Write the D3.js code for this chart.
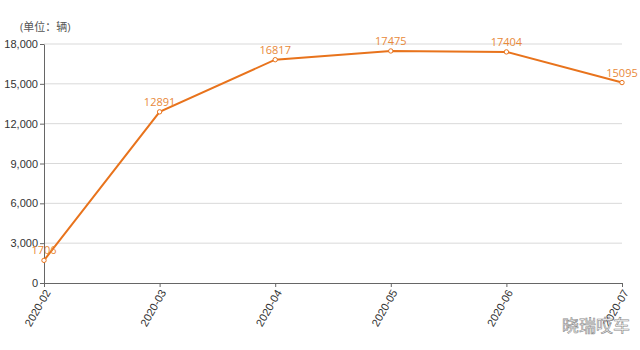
<!DOCTYPE html>
<html>
<head>
<meta charset="utf-8">
<script src="https://cdn.jsdelivr.net/npm/d3@7"></script>
<style>
  body { margin: 0; background: #fff; }
  svg { display: block; font-family: "Open Sans", "Noto Sans CJK SC", sans-serif; }
</style>
</head>
<body>
<svg id="chart" width="640" height="350"></svg>
<script>
const months = ['2020-02', '2020-03', '2020-04', '2020-05', '2020-06', '2020-07'];
const sales = [1706, 12891, 16817, 17475, 17404, 15095];
const yTicks = [0, 3000, 6000, 9000, 12000, 15000, 18000];

const width = 640, height = 350;
const margin = { top: 44, right: 18, bottom: 67, left: 44 };

const svg = d3.select('#chart');

const x = d3.scalePoint()
  .domain(months)
  .range([margin.left, width - margin.right]);

const y = d3.scaleLinear()
  .domain([0, 18000])
  .range([height - margin.bottom, margin.top]);

// grid
svg.append('g')
  .selectAll('line')
  .data(yTicks.filter(d => d > 0))
  .enter()
  .append('line')
  .attr('x1', margin.left)
  .attr('x2', width - margin.right)
  .attr('y1', d => y(d))
  .attr('y2', d => y(d))
  .attr('stroke', '#d9d9d9')
  .attr('stroke-width', 1);

// y axis
const yAxis = svg.append('g')
  .attr('transform', `translate(${margin.left},0)`)
  .call(d3.axisLeft(y).tickValues(yTicks).tickFormat(d3.format(',')).tickSize(4).tickSizeOuter(0));
yAxis.select('.domain').attr('stroke', '#666');
yAxis.selectAll('.tick line').attr('stroke', '#666');
yAxis.selectAll('.tick text')
  .attr('fill', '#333')
  .style('font-size', '11px')
  .attr('x', -6);

// x axis
const xAxis = svg.append('g')
  .attr('transform', `translate(0,${y(0)})`)
  .call(d3.axisBottom(x).tickSize(4).tickSizeOuter(0));
xAxis.select('.domain').attr('stroke', '#666');
xAxis.selectAll('.tick line').attr('stroke', '#666');
xAxis.selectAll('.tick text')
  .attr('fill', '#333')
  .style('font-size', '11px')
  .attr('text-anchor', 'end')
  .attr('dy', null)
  .attr('y', 0)
  .attr('transform', 'translate(4,8) rotate(-60)')
  .attr('dominant-baseline', 'middle');

// unit label
svg.append('text')
  .attr('x', 20)
  .attr('y', 31)
  .attr('fill', '#555')
  .style('font-size', '11px')
  .text('(单位：辆)');

// line
const line = d3.line()
  .x((d, i) => x(months[i]))
  .y(d => y(d));

svg.append('path')
  .datum(sales)
  .attr('d', line)
  .attr('fill', 'none')
  .attr('stroke', '#e8731c')
  .attr('stroke-width', 2);

svg.append('g')
  .selectAll('circle')
  .data(sales)
  .enter()
  .append('circle')
  .attr('cx', (d, i) => x(months[i]))
  .attr('cy', d => y(d))
  .attr('r', 2.2)
  .attr('fill', '#fff')
  .attr('stroke', '#e8731c')
  .attr('stroke-width', 1);

svg.append('g')
  .selectAll('text')
  .data(sales)
  .enter()
  .append('text')
  .attr('x', (d, i) => x(months[i]))
  .attr('y', d => y(d) - 6)
  .attr('text-anchor', 'middle')
  .attr('fill', '#e8893a')
  .style('font-size', '11px')
  .text(d => d);

// watermark
svg.append('text')
  .attr('x', 630)
  .attr('y', 332)
  .attr('text-anchor', 'end')
  .attr('fill', '#fff')
  .attr('stroke', '#888')
  .attr('stroke-width', 0.6)
  .style('font-size', '17px')
  .style('font-family', '"Noto Sans CJK SC", sans-serif')
  .text('晓瑞哎车');
</script>
</body>
</html>
